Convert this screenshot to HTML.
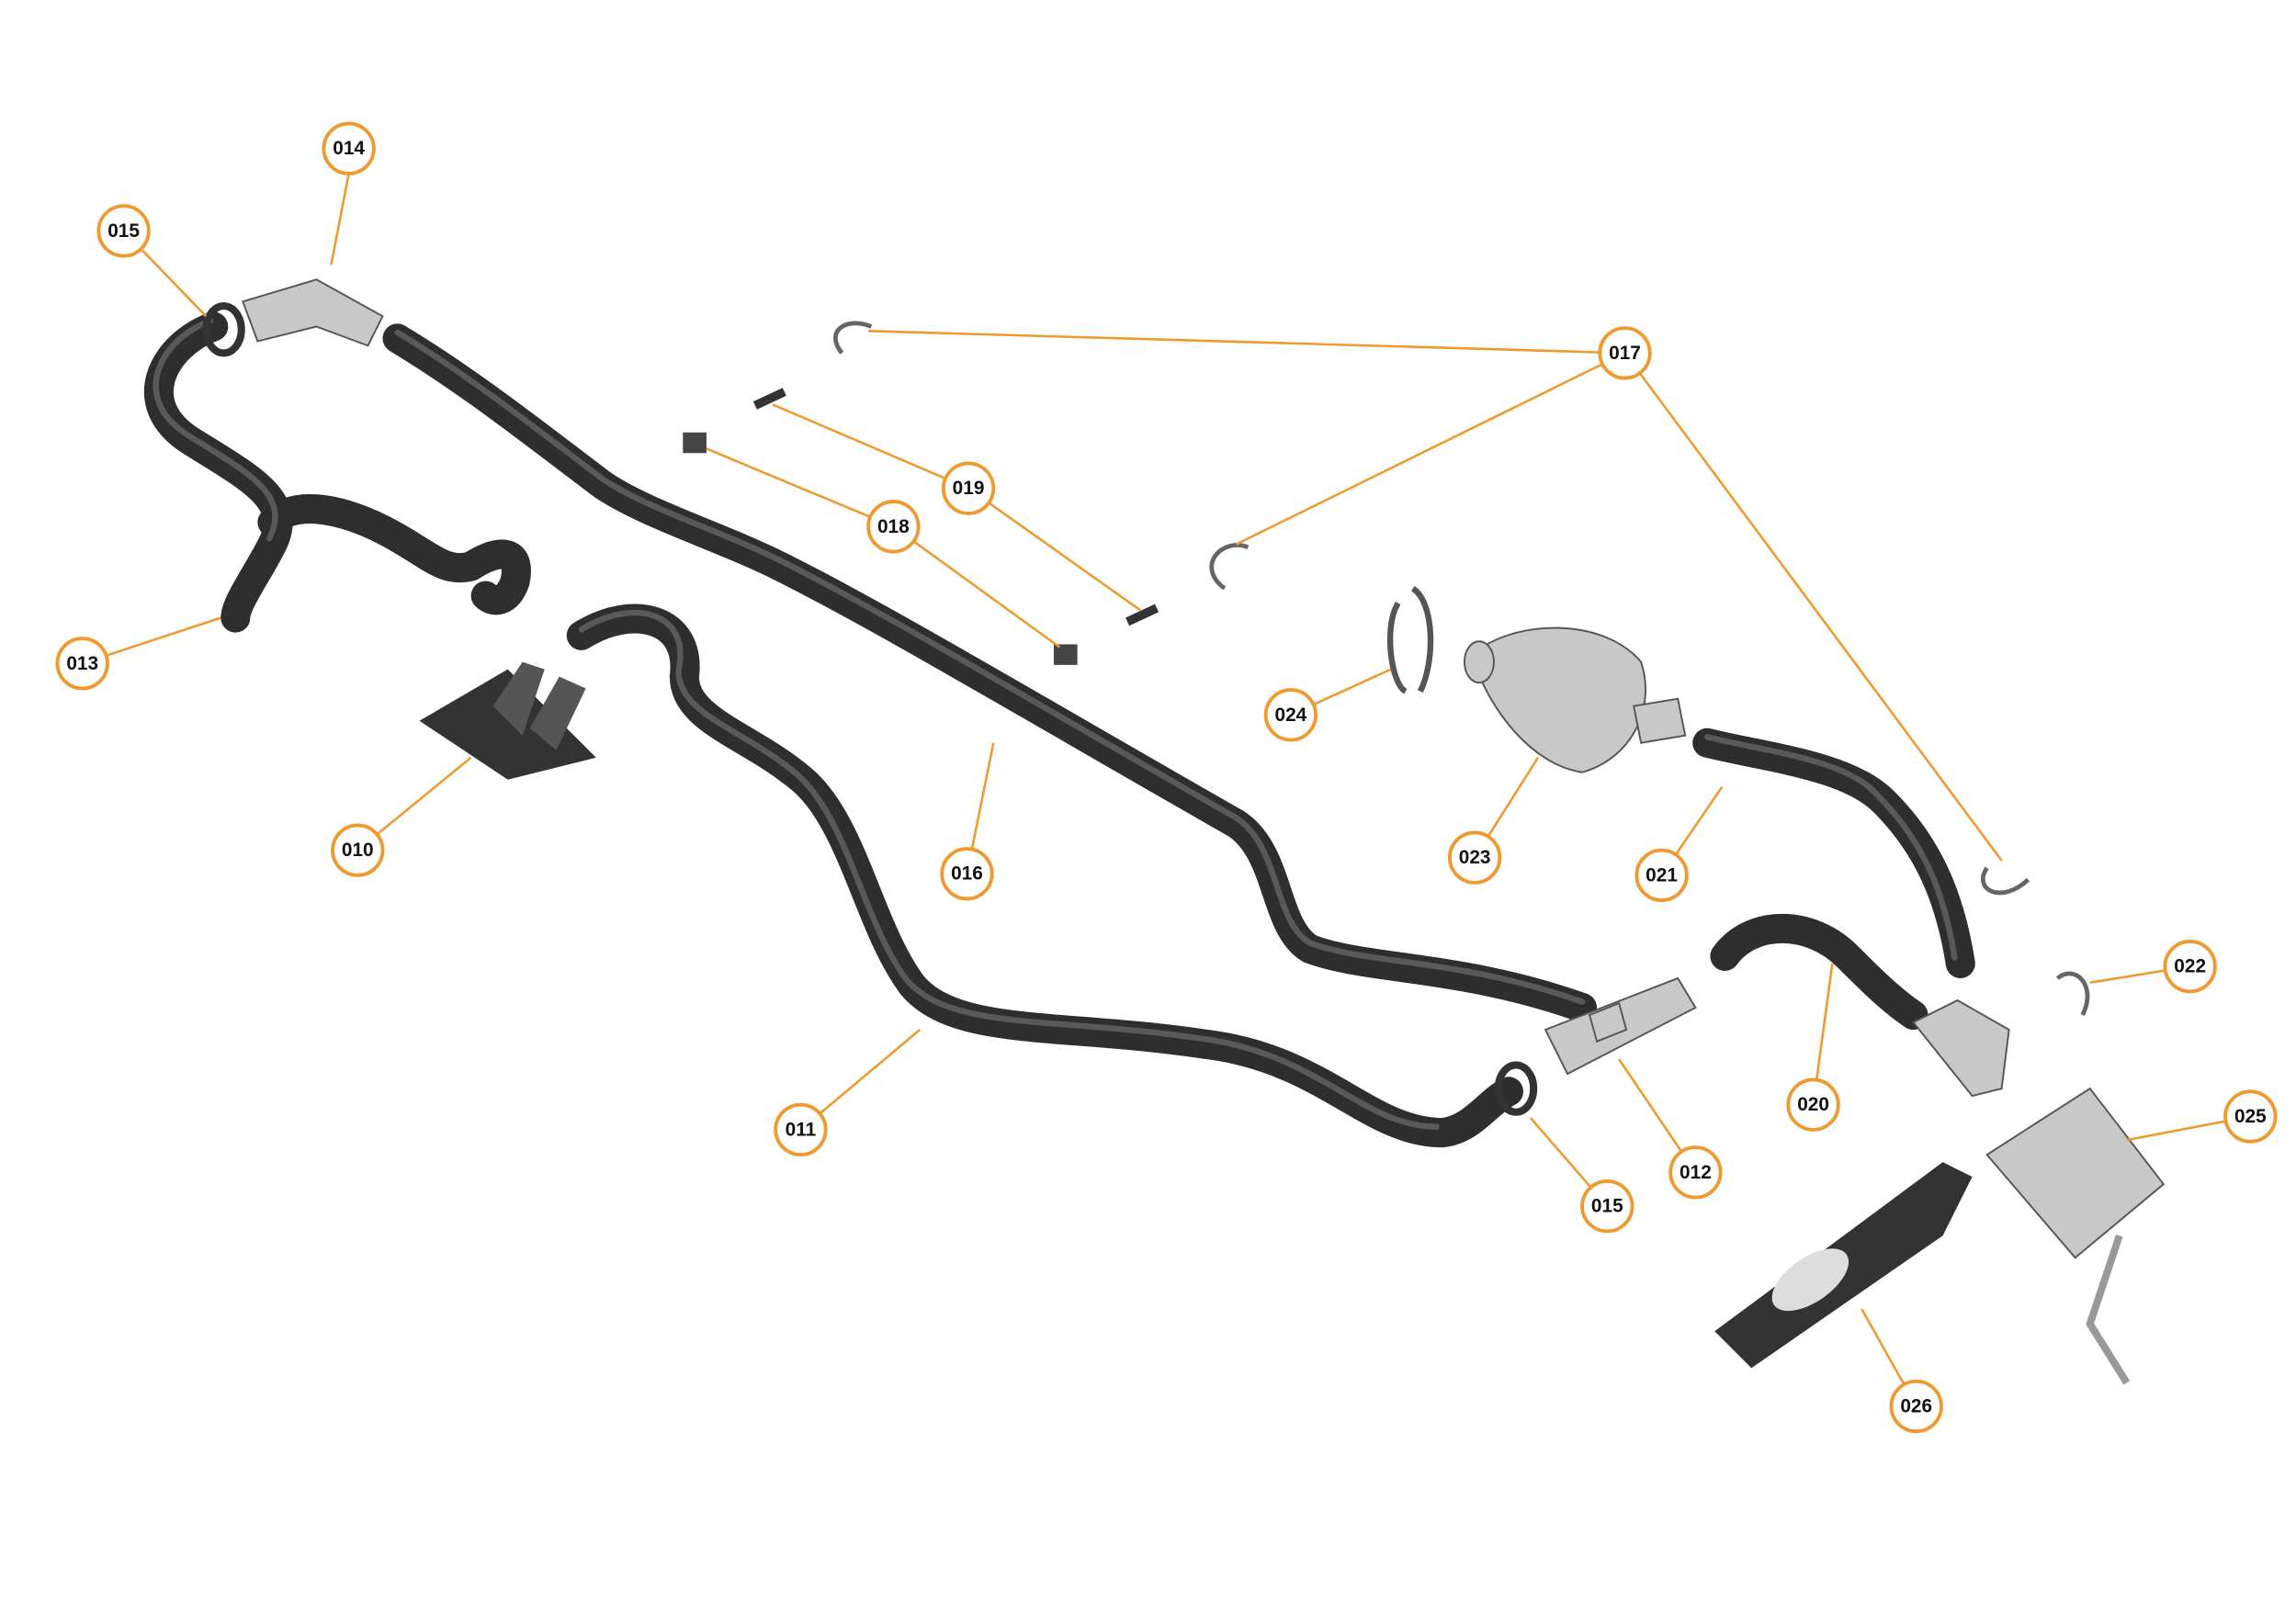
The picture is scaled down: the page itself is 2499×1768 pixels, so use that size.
<!DOCTYPE html>
<html><head><meta charset="utf-8"><style>
html,body{margin:0;padding:0;background:#fff;}
svg{display:block;}
.l{stroke:#ef9a2e;stroke-width:1.6;fill:none;}
.c{fill:#fff;stroke:#ef9a2e;stroke-width:2.4;}
.t{font-family:"Liberation Sans",sans-serif;font-weight:bold;font-size:13px;fill:#111;text-anchor:middle;dominant-baseline:central;}
.h{fill:none;stroke:#2e2e2e;stroke-width:20;stroke-linecap:round;stroke-linejoin:round;}
.hh{fill:none;stroke:#777;stroke-width:4;stroke-linecap:round;stroke-linejoin:round;opacity:.6;}
.m{fill:#c8c8c8;stroke:#555;stroke-width:1.2;}
</style></head><body>
<svg width="2499" height="1768" viewBox="0 0 1560 1104" preserveAspectRatio="none" xmlns="http://www.w3.org/2000/svg">
<!-- hoses -->
<g>
<path class="h" d="M270,230 C320,260 370,300 410,330 C440,350 490,365 530,385 C600,420 700,480 840,560 C870,580 865,630 890,645 C930,660 990,655 1075,685"/>
<path class="hh" d="M270,226 C320,256 370,296 410,326 C440,346 490,361 530,381 C600,416 700,476 840,556 C870,576 865,626 890,641 C930,656 990,651 1075,681"/>
<path class="h" d="M395,432 C430,410 470,420 465,460 C465,490 510,500 545,530 C580,560 590,630 620,670 C650,705 720,695 820,710 C900,720 930,770 980,770 C1000,768 1010,750 1025,742"/>
<path class="hh" d="M395,428 C430,406 470,416 461,456 C461,486 506,496 541,526 C576,556 586,626 616,666 C646,701 716,691 816,706 C896,716 926,766 976,766"/>
<path class="h" d="M145,222 C110,235 90,275 130,300 C170,325 200,340 185,370 C175,390 160,410 160,420"/>
<path class="h" d="M185,355 C200,340 230,345 260,360 C290,375 300,390 320,385 C335,375 355,370 350,395 C345,410 335,410 330,405"/>
<path class="hh" d="M143,218 C108,231 88,271 128,296 C168,321 198,336 183,366"/>
<path class="h" d="M1160,505 C1200,515 1255,520 1280,545 C1310,575 1325,610 1332,655"/>
<path class="hh" d="M1160,501 C1200,511 1255,516 1276,541 C1306,571 1321,606 1328,651"/>
<path class="h" d="M1172,650 C1190,625 1230,625 1255,650 C1270,665 1285,680 1300,690"/>
</g>
<!-- fittings -->
<path class="m" d="M165,205 L215,190 L260,215 L250,235 L215,222 L175,232 Z"/>
<ellipse cx="152" cy="224" rx="12" ry="16" fill="none" stroke="#333" stroke-width="5"/>
<path class="m" d="M1050,700 L1140,665 L1152,685 L1065,730 Z"/>
<path class="m" d="M1080,690 L1100,682 L1105,700 L1085,708 Z"/>
<ellipse cx="1030" cy="740" rx="12" ry="16" fill="none" stroke="#333" stroke-width="5"/>
<path fill="#333" d="M285,490 L345,455 L405,515 L345,530 Z"/>
<path fill="#555" d="M335,480 L355,450 L370,455 L355,500 Z M360,495 L380,460 L398,468 L378,510 Z"/>
<path class="m" d="M1000,445 C1030,420 1090,420 1115,450 C1125,480 1110,515 1075,525 C1040,520 1010,480 1000,445 Z"/>
<ellipse cx="1005" cy="450" rx="10" ry="14" class="m"/>
<path class="m" d="M1110,480 L1140,475 L1145,500 L1115,505 Z"/>
<path fill="none" stroke="#555" stroke-width="4" d="M950,410 C940,425 945,465 955,470 M960,400 C975,410 975,450 965,470"/>
<path class="m" d="M1300,695 L1330,680 L1365,700 L1360,740 L1340,745 Z"/>
<path class="m" d="M1350,785 L1420,740 L1470,805 L1410,855 Z"/>
<path fill="none" stroke="#999" stroke-width="5" d="M1440,840 L1430,870 L1420,900 L1445,940"/>
<path fill="#333" d="M1165,905 L1320,790 L1340,800 L1320,840 L1190,930 Z"/>
<ellipse cx="1230" cy="870" rx="30" ry="15" fill="#ddd" transform="rotate(-35 1230 870)"/>
<path fill="none" stroke="#666" stroke-width="3" d="M572,240 C560,225 575,215 592,222 M832,400 C812,385 830,365 848,372 M1350,590 C1340,605 1360,615 1378,598 M1398,665 C1410,655 1425,670 1415,690"/>
<rect x="512" y="268" width="22" height="6" fill="#333" transform="rotate(-25 523 271)"/>
<rect x="765" y="415" width="22" height="6" fill="#333" transform="rotate(-25 776 418)"/>
<rect x="464" y="294" width="16" height="14" fill="#444"/>
<rect x="716" y="438" width="16" height="14" fill="#444"/>
<!-- leaders -->
<g class="l">
<path d="M237,118 L225,180"/><path d="M84,157 L140,215"/>
<path d="M1104,240 L590,225"/><path d="M1104,240 L840,370"/><path d="M1104,240 L1360,585"/>
<path d="M658,332 L525,275"/><path d="M658,332 L775,415"/>
<path d="M607,358 L480,305"/><path d="M607,358 L720,440"/>
<path d="M56,451 L150,420"/><path d="M877,486 L945,455"/><path d="M1002,583 L1045,515"/>
<path d="M1129,595 L1170,535"/><path d="M243,578 L320,515"/><path d="M657,594 L675,505"/>
<path d="M1488,657 L1420,668"/><path d="M1232,751 L1245,655"/><path d="M1529,759 L1445,775"/>
<path d="M544,768 L625,700"/><path d="M1152,797 L1100,720"/><path d="M1092,820 L1040,760"/>
<path d="M1302,956 L1265,890"/>
</g>
<!-- labels -->
<g>
<circle class="c" cx="237" cy="101" r="17"/><text class="t" x="237" y="101">014</text>
<circle class="c" cx="84" cy="157" r="17"/><text class="t" x="84" y="157">015</text>
<circle class="c" cx="1104" cy="240" r="17"/><text class="t" x="1104" y="240">017</text>
<circle class="c" cx="658" cy="332" r="17"/><text class="t" x="658" y="332">019</text>
<circle class="c" cx="607" cy="358" r="17"/><text class="t" x="607" y="358">018</text>
<circle class="c" cx="56" cy="451" r="17"/><text class="t" x="56" y="451">013</text>
<circle class="c" cx="877" cy="486" r="17"/><text class="t" x="877" y="486">024</text>
<circle class="c" cx="1002" cy="583" r="17"/><text class="t" x="1002" y="583">023</text>
<circle class="c" cx="1129" cy="595" r="17"/><text class="t" x="1129" y="595">021</text>
<circle class="c" cx="243" cy="578" r="17"/><text class="t" x="243" y="578">010</text>
<circle class="c" cx="657" cy="594" r="17"/><text class="t" x="657" y="594">016</text>
<circle class="c" cx="1488" cy="657" r="17"/><text class="t" x="1488" y="657">022</text>
<circle class="c" cx="1232" cy="751" r="17"/><text class="t" x="1232" y="751">020</text>
<circle class="c" cx="1529" cy="759" r="17"/><text class="t" x="1529" y="759">025</text>
<circle class="c" cx="544" cy="768" r="17"/><text class="t" x="544" y="768">011</text>
<circle class="c" cx="1152" cy="797" r="17"/><text class="t" x="1152" y="797">012</text>
<circle class="c" cx="1092" cy="820" r="17"/><text class="t" x="1092" y="820">015</text>
<circle class="c" cx="1302" cy="956" r="17"/><text class="t" x="1302" y="956">026</text>
</g>
</svg>
</body></html>
